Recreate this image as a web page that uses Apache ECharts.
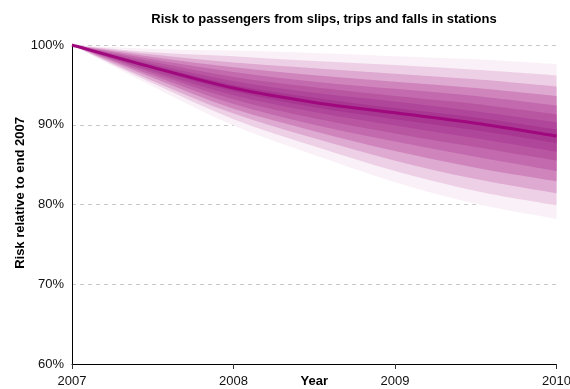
<!DOCTYPE html>
<html>
<head>
<meta charset="utf-8">
<script src="https://cdn.jsdelivr.net/npm/echarts@6/dist/echarts.min.js"></script>
<style>
  html, body { margin: 0; padding: 0; background: #fff; }
  #chart { width: 570px; height: 389px; }
</style>
</head>
<body>
<div id="chart"></div>
<script>
// Time points (years) at which the projection is given
const years = [2007, 2007.5, 2008, 2008.5, 2009, 2009.5, 2010];
const yearTicks = [2007, 2008, 2009, 2010];
const riskTicks = [60, 70, 80, 90, 100];

// Central projection, % of end-2007 risk
const central = [100, 97.2, 94.6, 92.8, 91.5, 90.2, 88.6];

// Fan band edges, innermost (1) to outermost (8)
const hi1 = [100, 97.4, 95.0, 93.4, 92.1, 90.9, 89.4];
const lo1 = [100, 97.0, 94.2, 92.2, 90.7, 89.3, 87.7];
const hi2 = [100, 97.6, 95.5, 94.0, 92.9, 91.7, 90.3];
const lo2 = [100, 96.7, 93.7, 91.6, 89.9, 88.3, 86.6];
const hi3 = [100, 97.9, 96.0, 94.7, 93.6, 92.6, 91.3];
const lo3 = [100, 96.5, 93.2, 90.8, 88.9, 87.2, 85.5];
const hi4 = [100, 98.2, 96.6, 95.4, 94.5, 93.6, 92.4];
const lo4 = [100, 96.2, 92.6, 90.0, 87.9, 86.0, 84.2];
const hi5 = [100, 98.5, 97.2, 96.2, 95.4, 94.6, 93.6];
const lo5 = [100, 95.9, 92.0, 89.2, 86.7, 84.6, 82.9];
const hi6 = [100, 98.8, 97.8, 97.1, 96.4, 95.7, 94.8];
const lo6 = [100, 95.5, 91.4, 88.3, 85.5, 83.2, 81.4];
const hi7 = [100, 99.1, 98.6, 98.0, 97.5, 96.9, 96.2];
const lo7 = [100, 95.2, 90.7, 87.3, 84.2, 81.7, 79.9];
const hi8 = [100, 99.5, 99.3, 99.0, 98.6, 98.2, 97.6];
const lo8 = [100, 94.8, 89.9, 86.2, 82.8, 80.1, 78.2];

const highs = [hi1, hi2, hi3, hi4, hi5, hi6, hi7, hi8];
const lows = [lo1, lo2, lo3, lo4, lo5, lo6, lo7, lo8];

// Shades from the centre of the fan outwards
const bandColors = ['#a83791', '#b0469a', '#b856a1', '#c26aad', '#cf85bc', '#deaad1', '#eed0e6', '#faf0f7'];

const FONT = 'Liberation Sans, Arial, Helvetica, sans-serif';

// Smooth cubic path through pixel points (Catmull-Rom as Bezier segments)
function curveThrough(pts) {
  let d = '';
  for (let i = 0; i < pts.length - 1; i++) {
    const p0 = pts[Math.max(i - 1, 0)];
    const p1 = pts[i];
    const p2 = pts[i + 1];
    const p3 = pts[Math.min(i + 2, pts.length - 1)];
    const c1x = p1[0] + (p2[0] - p0[0]) / 6, c1y = p1[1] + (p2[1] - p0[1]) / 6;
    const c2x = p2[0] - (p3[0] - p1[0]) / 6, c2y = p2[1] - (p3[1] - p1[1]) / 6;
    d += ' C ' + c1x + ' ' + c1y + ' ' + c2x + ' ' + c2y + ' ' + p2[0] + ' ' + p2[1];
  }
  return d;
}

function renderFan(params, api) {
  const children = [];
  // outer bands first so the darker inner bands paint over them
  for (let k = highs.length - 1; k >= 0; k--) {
    const up = years.map((t, i) => api.coord([t, highs[k][i]]));
    const dn = years.map((t, i) => api.coord([t, lows[k][i]])).reverse();
    const d = 'M ' + up[0][0] + ' ' + up[0][1] + curveThrough(up) +
              ' L ' + dn[0][0] + ' ' + dn[0][1] + curveThrough(dn) + ' Z';
    children.push({ type: 'path', shape: { pathData: d }, style: { fill: bandColors[k], stroke: null } });
  }
  const mid = years.map((t, i) => api.coord([t, central[i]]));
  children.push({
    type: 'path',
    shape: { pathData: 'M ' + mid[0][0] + ' ' + mid[0][1] + curveThrough(mid) },
    style: { fill: null, stroke: '#a0087e', lineWidth: 3, lineJoin: 'round' }
  });
  return { type: 'group', children: children };
}

const chart = echarts.init(document.getElementById('chart'), null, { renderer: 'canvas' });
chart.setOption({
  animation: false,
  backgroundColor: '#ffffff',
  textStyle: { fontFamily: FONT },
  title: {
    text: 'Risk to passengers from slips, trips and falls in stations',
    left: 319, top: 8, textAlign: 'center',
    textStyle: { fontFamily: FONT, fontSize: 13, fontWeight: 'bold', color: '#000' }
  },
  graphic: [{
    type: 'text', x: 20, y: 193, rotation: Math.PI / 2, silent: true,
    style: {
      text: 'Risk relative to end 2007', fill: '#000',
      font: 'bold 13px ' + FONT, textAlign: 'center', textVerticalAlign: 'middle'
    }
  }],
  grid: { left: 72, right: 13.5, top: 45, bottom: 25, containLabel: false, outerBoundsMode: 'none' },
  xAxis: {
    type: 'value',
    min: yearTicks[0], max: yearTicks[yearTicks.length - 1], interval: 1,
    name: 'Year', nameLocation: 'middle', nameGap: 11, nameMoveOverlap: false,
    nameTextStyle: { fontFamily: FONT, fontSize: 13, fontWeight: 'bold', color: '#000', verticalAlign: 'top' },
    axisLine: { show: true, lineStyle: { color: '#000', width: 1 } },
    axisTick: { show: true, length: 5, lineStyle: { color: '#333' } },
    axisLabel: { margin: 11, fontSize: 13, color: '#111', fontFamily: FONT, formatter: v => String(v) },
    splitLine: { show: false }
  },
  yAxis: {
    type: 'value',
    min: riskTicks[0], max: riskTicks[riskTicks.length - 1], interval: 10,
    axisLine: { show: true, lineStyle: { color: '#000', width: 1 } },
    axisTick: { show: false },
    axisLabel: { margin: 8, fontSize: 13, color: '#111', fontFamily: FONT, formatter: '{value}%' },
    splitLine: { show: true, lineStyle: { color: '#c8c8c8', type: [4, 4], width: 1 } }
  },
  series: [{
    type: 'custom',
    coordinateSystem: 'cartesian2d',
    silent: true,
    z: 3,
    data: [[years[0], central[0]]],
    renderItem: renderFan
  }]
});
</script>
</body>
</html>
